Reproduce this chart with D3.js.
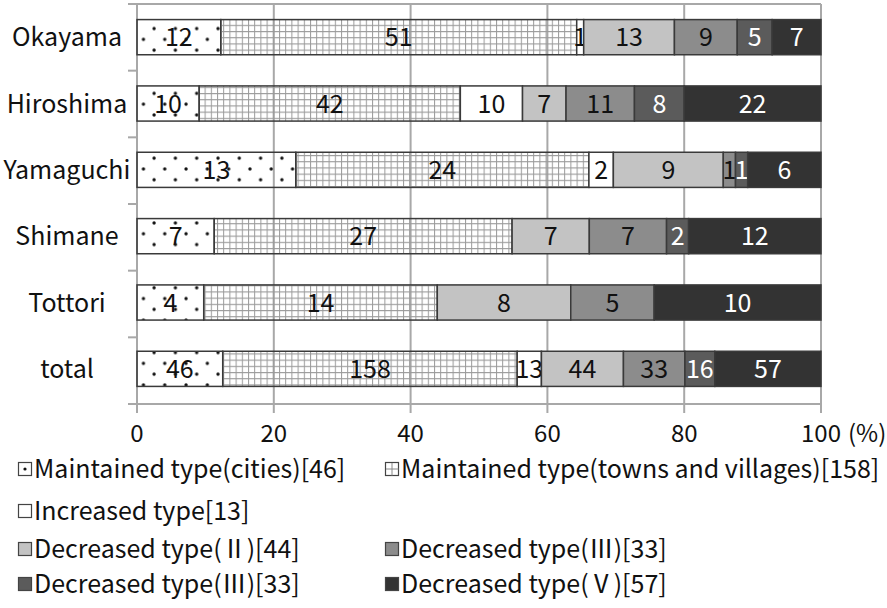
<!DOCTYPE html>
<html>
<head>
<meta charset="utf-8">
<script src="https://cdn.jsdelivr.net/npm/d3@7"></script>
<style>
  html, body { margin: 0; padding: 0; background: #fff; }
  svg { display: block; }
</style>
</head>
<body>
<div id="chart"></div>
<script>
// Prefectures (bars, top to bottom)
const categories = ["Okayama", "Hiroshima", "Yamaguchi", "Shimane", "Tottori", "total"];

// Municipality counts per type and prefecture
const citiesVals    = [12, 10, 13, 7, 4, 46];
const townsVals     = [51, 42, 24, 27, 14, 158];
const increasedVals = [1, 10, 2, 0, 0, 13];
const decIIVals     = [13, 7, 9, 7, 8, 44];
const decIIIVals    = [9, 11, 1, 7, 5, 33];
const decIVVals     = [5, 8, 1, 2, 0, 16];
const decVVals      = [7, 22, 6, 12, 10, 57];

const seriesKeys = ["cities", "towns", "increased", "decII", "decIII", "decIV", "decV"];
const seriesLabels = [
  "Maintained type(cities)[46]",
  "Maintained type(towns and villages)[158]",
  "Increased type[13]",
  "Decreased type(Ⅱ)[44]",
  "Decreased type(Ⅲ)[33]",
  "Decreased type(Ⅲ)[33]",
  "Decreased type(Ⅴ)[57]"
];
const xTicks = [0, 20, 40, 60, 80, 100];

const W = 887, H = 608;
const FONT = "'Noto Sans CJK JP', 'Noto Sans', sans-serif";

const valueSets = [citiesVals, townsVals, increasedVals, decIIVals, decIIIVals, decIVVals, decVVals];
const table = categories.map((c, i) => {
  const row = { category: c };
  seriesKeys.forEach((k, j) => { row[k] = valueSets[j][i]; });
  return row;
});

const stacked = d3.stack().keys(seriesKeys).offset(d3.stackOffsetExpand)(table);

const x = d3.scaleLinear().domain([0, 100]).range([137, 821]);
const y = d3.scaleBand().domain(categories).range([4, 402]).paddingInner(0.47).paddingOuter(0.235);
const yOuter = d3.scaleBand().domain(categories).range([4, 404]);

const svg = d3.select("#chart").append("svg").attr("width", W).attr("height", H)
  .style("font-family", FONT);

const defs = svg.append("defs");

// dotted fill for maintained cities
const dots = defs.append("pattern").attr("id", "pat-cities")
  .attr("patternUnits", "userSpaceOnUse").attr("width", 21.3).attr("height", 21.6)
  .attr("x", 3).attr("y", 5);
dots.append("circle").attr("cx", 2).attr("cy", 2).attr("r", 1.7).attr("fill", "#111");
dots.append("circle").attr("cx", 12.65).attr("cy", 12.8).attr("r", 1.7).attr("fill", "#111");

// fine grid fill for maintained towns and villages
const grid = defs.append("pattern").attr("id", "pat-towns")
  .attr("patternUnits", "userSpaceOnUse").attr("width", 6.2).attr("height", 6.2);
grid.append("path").attr("d", "M0,0.5H6.2M0.5,0V6.2")
  .attr("stroke", "#9a9a9a").attr("stroke-width", 1).attr("fill", "none");

const fills = {
  cities: "url(#pat-cities)",
  towns: "url(#pat-towns)",
  increased: "#ffffff",
  decII: "#c3c3c3",
  decIII: "#8c8c8c",
  decIV: "#5b5b5b",
  decV: "#333333"
};
const textColor = { decIV: "#fff", decV: "#fff" };

const gridColor = "#a8a8a8";

// vertical gridlines with ticks below the axis
svg.append("g").selectAll("line").data(xTicks).join("line")
  .attr("x1", d => x(d)).attr("x2", d => x(d))
  .attr("y1", 4).attr("y2", 413)
  .attr("stroke", gridColor).attr("stroke-width", 2);

// top and bottom frame lines
svg.append("g").selectAll("line").data([4, 404]).join("line")
  .attr("x1", 128).attr("x2", x(100))
  .attr("y1", d => d).attr("y2", d => d)
  .attr("stroke", gridColor).attr("stroke-width", 2);

// category ticks on the left axis
const bounds = categories.map(c => yOuter(c)).slice(1);
svg.append("g").selectAll("line").data(bounds).join("line")
  .attr("x1", 128).attr("x2", x(0))
  .attr("y1", d => d).attr("y2", d => d)
  .attr("stroke", gridColor).attr("stroke-width", 2);

// bars
const layers = svg.append("g").selectAll("g").data(stacked).join("g");
layers.selectAll("rect").data(d => d.map(p => ({ key: d.key, p }))).join("rect")
  .attr("x", d => x(d.p[0] * 100))
  .attr("y", d => y(d.p.data.category))
  .attr("width", d => x(d.p[1] * 100) - x(d.p[0] * 100))
  .attr("height", y.bandwidth())
  .attr("fill", d => fills[d.key])
  .attr("stroke", d => (d.p.data[d.key] > 0 ? "#3a3a3a" : "none"))
  .attr("stroke-width", 1.5);

// value labels inside segments
layers.selectAll("text").data(d => d.filter(p => p.data[d.key] > 0).map(p => ({ key: d.key, p }))).join("text")
  .attr("x", d => x((d.p[0] + d.p[1]) / 2 * 100))
  .attr("y", d => y(d.p.data.category) + y.bandwidth() / 2)
  .attr("dy", "0.36em")
  .attr("text-anchor", "middle")
  .attr("font-size", 25)
  .attr("fill", d => textColor[d.key] || "#111")
  .text(d => d.p.data[d.key]);

// category labels
svg.append("g").selectAll("text").data(categories).join("text")
  .attr("x", 67)
  .attr("y", d => y(d) + y.bandwidth() / 2)
  .attr("dy", "0.36em")
  .attr("text-anchor", "middle")
  .attr("font-size", 25)
  .attr("fill", "#111")
  .text(d => d);

// x tick labels
svg.append("g").selectAll("text").data(xTicks).join("text")
  .attr("x", d => x(d))
  .attr("y", 433)
  .attr("dy", "0.36em")
  .attr("text-anchor", "middle")
  .attr("font-size", 24)
  .attr("fill", "#111")
  .text(d => d);
svg.append("text").attr("x", 848).attr("y", 433).attr("dy", "0.36em")
  .attr("font-size", 24).attr("fill", "#111").text("(%)");

// legend
const legendPos = [
  { col: 0, row: 0 }, { col: 1, row: 0 },
  { col: 0, row: 1 },
  { col: 0, row: 2 }, { col: 1, row: 2 },
  { col: 0, row: 3 }, { col: 1, row: 3 }
];
const colX = [18, 385];
const rowY = [469, 511, 549, 584];

const swatchFill = {
  cities: "#fff", towns: "#fff", increased: "#fff",
  decII: fills.decII, decIII: fills.decIII, decIV: fills.decIV, decV: fills.decV
};

const legend = svg.append("g").selectAll("g").data(seriesKeys).join("g")
  .attr("transform", (d, i) => `translate(${colX[legendPos[i].col]},${rowY[legendPos[i].row]})`);

legend.append("rect")
  .attr("x", 0.5).attr("y", -6.5).attr("width", 13).attr("height", 13)
  .attr("fill", d => swatchFill[d])
  .attr("stroke", "#444").attr("stroke-width", 1.2);

legend.filter(d => d === "cities").append("circle")
  .attr("cx", 7).attr("cy", 0).attr("r", 1.6).attr("fill", "#111");
legend.filter(d => d === "towns").append("path")
  .attr("d", "M1,0H13.5M7,-6V6.5")
  .attr("stroke", "#888").attr("stroke-width", 1);

legend.append("text")
  .attr("x", 16).attr("y", 0).attr("dy", "0.36em")
  .attr("font-size", 25).attr("fill", "#111")
  .text((d, i) => seriesLabels[i]);
</script>
</body>
</html>
